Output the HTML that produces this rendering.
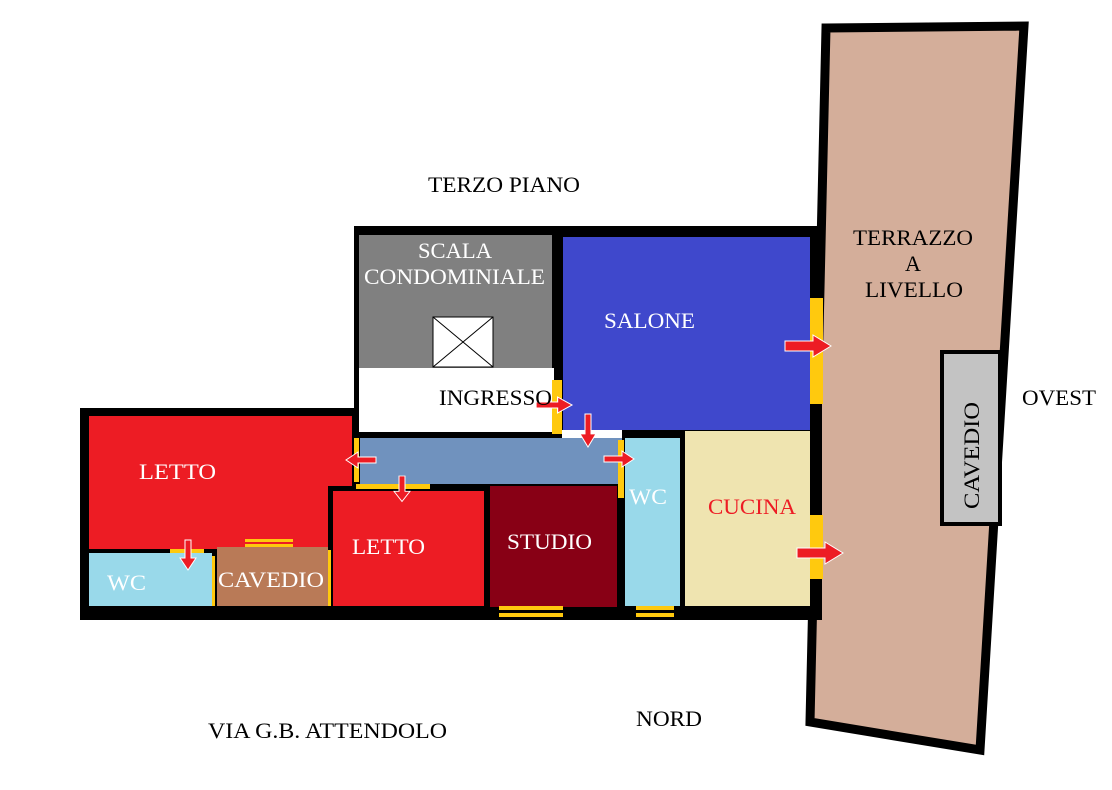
<!DOCTYPE html>
<html><head><meta charset="utf-8"><style>
html,body{margin:0;padding:0;background:#fff;}
svg{display:block;}
text{font-family:"Liberation Serif",serif;font-size:22px;}
</style></head><body>
<svg width="1112" height="790" viewBox="0 0 1112 790">
<defs>
<g id="ar"><path d="M0,-5 L28,-5 L28,-11 L46,0 L28,11 L28,5 L0,5 Z" fill="#ed1c24" stroke="#fff" stroke-width="1"/></g>
<g id="as"><path d="M0,-3 L18,-3 L18,-8 L30,0 L18,8 L18,3 L0,3 Z" fill="#ed1c24" stroke="#fff" stroke-width="1"/></g>
</defs>
<!-- terrace -->
<polygon points="826,28 1024,26 980,750 810,722" fill="#d4ae9a" stroke="#000" stroke-width="9" stroke-linejoin="miter"/>
<!-- building black base -->
<rect x="354" y="226" width="468" height="210" fill="#000"/>
<rect x="80" y="408" width="742" height="212" fill="#000"/>
<!-- rooms -->
<rect x="359" y="235" width="193" height="134" fill="#808080"/>
<rect x="359" y="368" width="195" height="64" fill="#fff"/>
<rect x="563" y="237" width="247" height="193" fill="#3f48cc"/>
<rect x="360" y="438" width="262" height="46" fill="#7092be"/>
<rect x="562" y="430" width="60" height="8" fill="#fff"/>
<polygon points="89,416 352,416 352,486 328,486 328,549 89,549" fill="#ed1c24"/>
<rect x="333" y="491" width="151" height="115" fill="#ed1c24"/>
<rect x="490" y="486" width="127" height="121" fill="#880015"/>
<rect x="625" y="438" width="55" height="168" fill="#99d9ea"/>
<rect x="685" y="431" width="125" height="175" fill="#efe4b0"/>
<!-- windows -->
<g fill="#ffc90e">
<rect x="810" y="298" width="13" height="106"/>
<rect x="810" y="515" width="13" height="64"/>
<rect x="552" y="380" width="10" height="54"/>
<rect x="354" y="438" width="5" height="44"/>
<rect x="618" y="440" width="6" height="58"/>
<rect x="356" y="484" width="74" height="5"/>
<rect x="170" y="549" width="34" height="5"/>
<rect x="245" y="539" width="48" height="3"/>
<rect x="245" y="544" width="48" height="3"/>
<rect x="212" y="556" width="3" height="50"/>
<rect x="328" y="550" width="3" height="56"/>
<rect x="499" y="606" width="64" height="4"/>
<rect x="499" y="613" width="64" height="4"/>
<rect x="636" y="606" width="38" height="4"/>
<rect x="636" y="613" width="38" height="4"/>
</g>
<rect x="89" y="553" width="123" height="53" fill="#99d9ea"/>
<rect x="217" y="547" width="111" height="59" fill="#b97a57"/>
<!-- cavedio right -->
<rect x="942" y="352" width="58" height="172" fill="#c3c3c3" stroke="#000" stroke-width="4"/>
<!-- stair box -->
<rect x="433" y="317" width="60" height="50" fill="#fff" stroke="#000" stroke-width="1"/>
<line x1="433" y1="317" x2="493" y2="367" stroke="#000"/><line x1="493" y1="317" x2="433" y2="367" stroke="#000"/>
<!-- arrows -->
<use href="#ar" transform="translate(785,346)"/>
<use href="#ar" transform="translate(797,553)"/>
<use href="#as" transform="translate(536,405) scale(1.2,1)"/>
<use href="#as" transform="translate(604,459)"/>
<use href="#as" transform="translate(376,460) scale(-1,1)"/>
<use href="#as" transform="translate(588,414) rotate(90) scale(1.1,1)"/>
<use href="#as" transform="translate(402,476) rotate(90) scale(0.85,1)"/>
<use href="#as" transform="translate(188,540) rotate(90) scale(1,1)"/>
<!-- text -->
<g fill="#fff">
<text x="418" y="258" textLength="74" lengthAdjust="spacingAndGlyphs">SCALA</text>
<text x="364" y="284" textLength="181" lengthAdjust="spacingAndGlyphs">CONDOMINIALE</text>
<text x="604" y="328" textLength="91" lengthAdjust="spacingAndGlyphs">SALONE</text>
<text x="139" y="479" textLength="77" lengthAdjust="spacingAndGlyphs">LETTO</text>
<text x="352" y="554" textLength="73" lengthAdjust="spacingAndGlyphs">LETTO</text>
<text x="507" y="549" textLength="85" lengthAdjust="spacingAndGlyphs">STUDIO</text>
<text x="629" y="504" textLength="38" lengthAdjust="spacingAndGlyphs">WC</text>
<text x="107" y="590" textLength="39" lengthAdjust="spacingAndGlyphs">WC</text>
<text x="218" y="587" textLength="106" lengthAdjust="spacingAndGlyphs">CAVEDIO</text>
</g>
<text x="439" y="405" textLength="113" lengthAdjust="spacingAndGlyphs">INGRESSO</text>
<text x="708" y="514" textLength="88" lengthAdjust="spacingAndGlyphs" fill="#ed1c24">CUCINA</text>
<text x="853" y="245" textLength="120" lengthAdjust="spacingAndGlyphs">TERRAZZO</text>
<text x="913" y="271" text-anchor="middle">A</text>
<text x="865" y="297" textLength="98" lengthAdjust="spacingAndGlyphs">LIVELLO</text>
<text transform="translate(979,509) rotate(-90)" textLength="107" lengthAdjust="spacingAndGlyphs">CAVEDIO</text>
<text x="428" y="192" textLength="152" lengthAdjust="spacingAndGlyphs">TERZO PIANO</text>
<text x="1022" y="405" textLength="74" lengthAdjust="spacingAndGlyphs">OVEST</text>
<text x="636" y="726" textLength="66" lengthAdjust="spacingAndGlyphs">NORD</text>
<text x="208" y="738" textLength="239" lengthAdjust="spacingAndGlyphs">VIA G.B. ATTENDOLO</text>
</svg>
</body></html>
